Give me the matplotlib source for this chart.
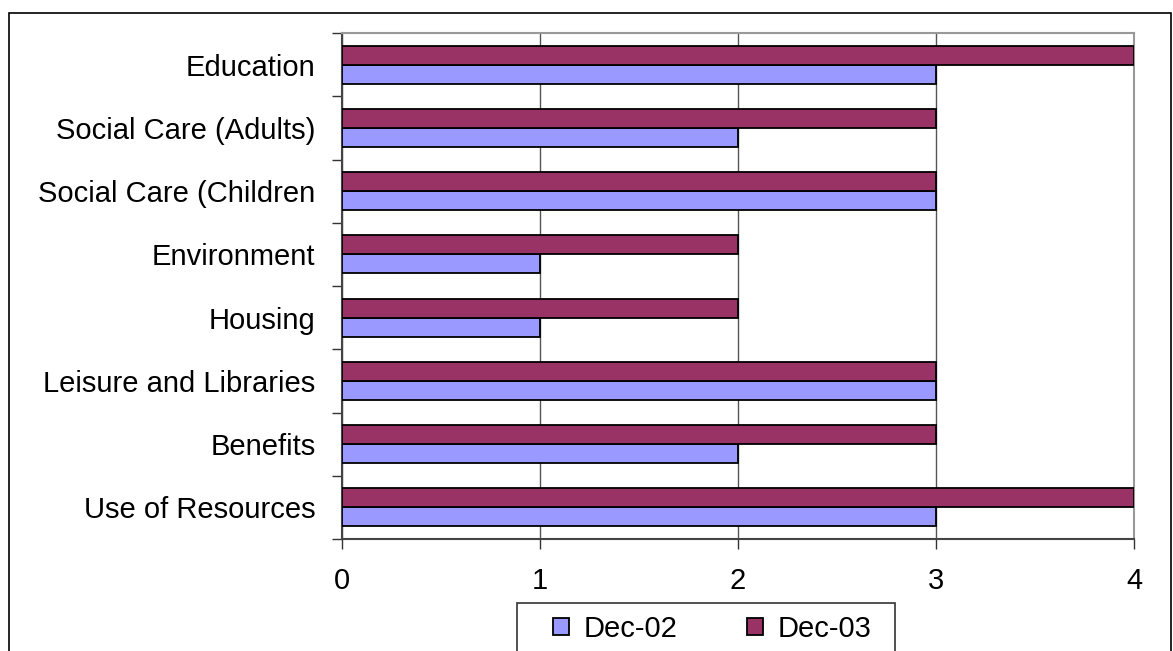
import numpy as np
import matplotlib.pyplot as plt
from matplotlib.patches import Rectangle

# ── Data ──────────────────────────────────────────────────────────────────────
categories = ["Education", "Social Care (Adults)", "Social Care (Children",
              "Environment", "Housing", "Leisure and Libraries", "Benefits",
              "Use of Resources"]
dec02 = [3, 2, 3, 1, 1, 3, 2, 3]
dec03 = [4, 3, 3, 2, 2, 3, 3, 4]
series_labels = ["Dec-02", "Dec-03"]
x_ticks = [0, 1, 2, 3, 4]
# ──────────────────────────────────────────────────────────────────────────────

plt.rcParams["font.family"] = ["Liberation Sans", "DejaVu Sans"]
FS = 21

W, H = 1173, 651
fig = plt.figure(figsize=(W / 100, H / 100), dpi=100)

# outer chart frame
fig.patches.append(Rectangle((9 / W, -0.1), (1171 - 9) / W, 1.1 - 13 / H,
                             transform=fig.transFigure, fill=False,
                             edgecolor="black", linewidth=1.2))

ax = fig.add_axes([342 / W, 1 - 539 / H, (1134 - 342) / W, (539 - 33) / H])

n = len(categories)
y = np.arange(n)[::-1].astype(float)   # first category on top
bh = 0.3
ax.barh(y - bh / 2, dec02, height=bh, color="#9999FF", edgecolor="black",
        linewidth=1.3, label=series_labels[0], zorder=3)
ax.barh(y + bh / 2, dec03, height=bh, color="#993366", edgecolor="black",
        linewidth=1.3, label=series_labels[1], zorder=3)

ax.set_xlim(0, 4)
ax.set_ylim(-0.5, n - 0.5)
ax.set_xticks(x_ticks)
ax.set_xticklabels([str(t) for t in x_ticks], fontsize=FS)

# category labels centered in each band, tick marks on band boundaries
ax.set_yticks(y)
ax.set_yticklabels(categories, fontsize=FS)
ax.tick_params(axis="y", length=0, pad=19)
ax.set_yticks(np.arange(n + 1) - 0.5, minor=True)
ax.tick_params(axis="y", which="minor", length=7, width=1, color="#333333")
ax.tick_params(axis="x", length=7, width=1, color="#333333", pad=13)

ax.grid(axis="x", color="#555555", linewidth=1, zorder=0)
for side in ["top", "right"]:
    ax.spines[side].set_color("#999999")
    ax.spines[side].set_linewidth(1.5)
for side in ["left", "bottom"]:
    ax.spines[side].set_color("#444444")
    ax.spines[side].set_linewidth(1.5)

# legend box drawn separately so its padding matches the reference
fig.patches.append(Rectangle((517 / W, -0.1), (895 - 517) / W, 1.1 - 603 / H,
                             transform=fig.transFigure, fill=False,
                             edgecolor="#333333", linewidth=1.2))
fig.legend(loc="center", bbox_to_anchor=(712 / W, 1 - 629 / H),
           ncol=2, fontsize=FS, frameon=False,
           handlelength=0.55, handleheight=0.55, handletextpad=0.5,
           columnspacing=2.4, borderpad=0, borderaxespad=0)

fig.savefig("out.png", dpi=100)
